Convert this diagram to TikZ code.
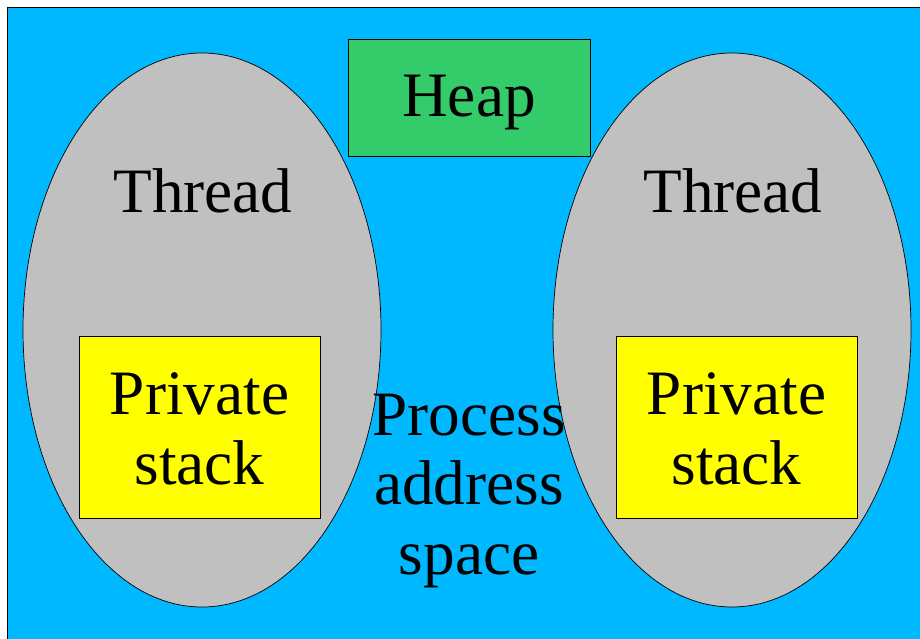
\documentclass[tikz,border=0pt]{standalone}
\usepackage{fontspec}
\setmainfont{Liberation Serif}
\definecolor{procblue}{RGB}{0,184,255}
\definecolor{heapgreen}{RGB}{52,204,106}
\definecolor{threadgray}{RGB}{192,192,192}
\definecolor{stackyellow}{RGB}{255,255,0}
\begin{document}
\begin{tikzpicture}[x = 0.02cm, y = -0.02cm,
  big/.style = {font = \fontsize{36}{39.5}\selectfont, align = center, inner sep = 0pt},
  box/.style = {draw, thin, inner sep = 0pt}]
\useasboundingbox (0,0) rectangle (920,639);
\filldraw[fill = procblue, thin] (7,7) rectangle (930,650);
\filldraw[fill = threadgray, thin] (202,330) ellipse [x radius = 179, y radius = 277];
\filldraw[fill = threadgray, thin] (732,330) ellipse [x radius = 179, y radius = 277];
\node[box, fill = heapgreen, minimum width = 242*0.02cm, minimum height = 117*0.02cm] at (469,97.5) (heap) {};
\node[big] at (469,103) (heaptext) {Heap};
\node[big] at (203,191) (t1) {Thread};
\node[big] at (733,191) (t2) {Thread};
\node[box, fill = stackyellow, minimum width = 241*0.02cm, minimum height = 182*0.02cm] at (199.5,427) (s1) {};
\node[box, fill = stackyellow, minimum width = 241*0.02cm, minimum height = 182*0.02cm] at (736.5,427) (s2) {};
\node[big] at (199.5,429) {Private\\stack};
\node[big] at (736.5,429) {Private\\stack};
\node[big] at (469,491) (pas) {Process\\address\\space};
\end{tikzpicture}
\end{document}
